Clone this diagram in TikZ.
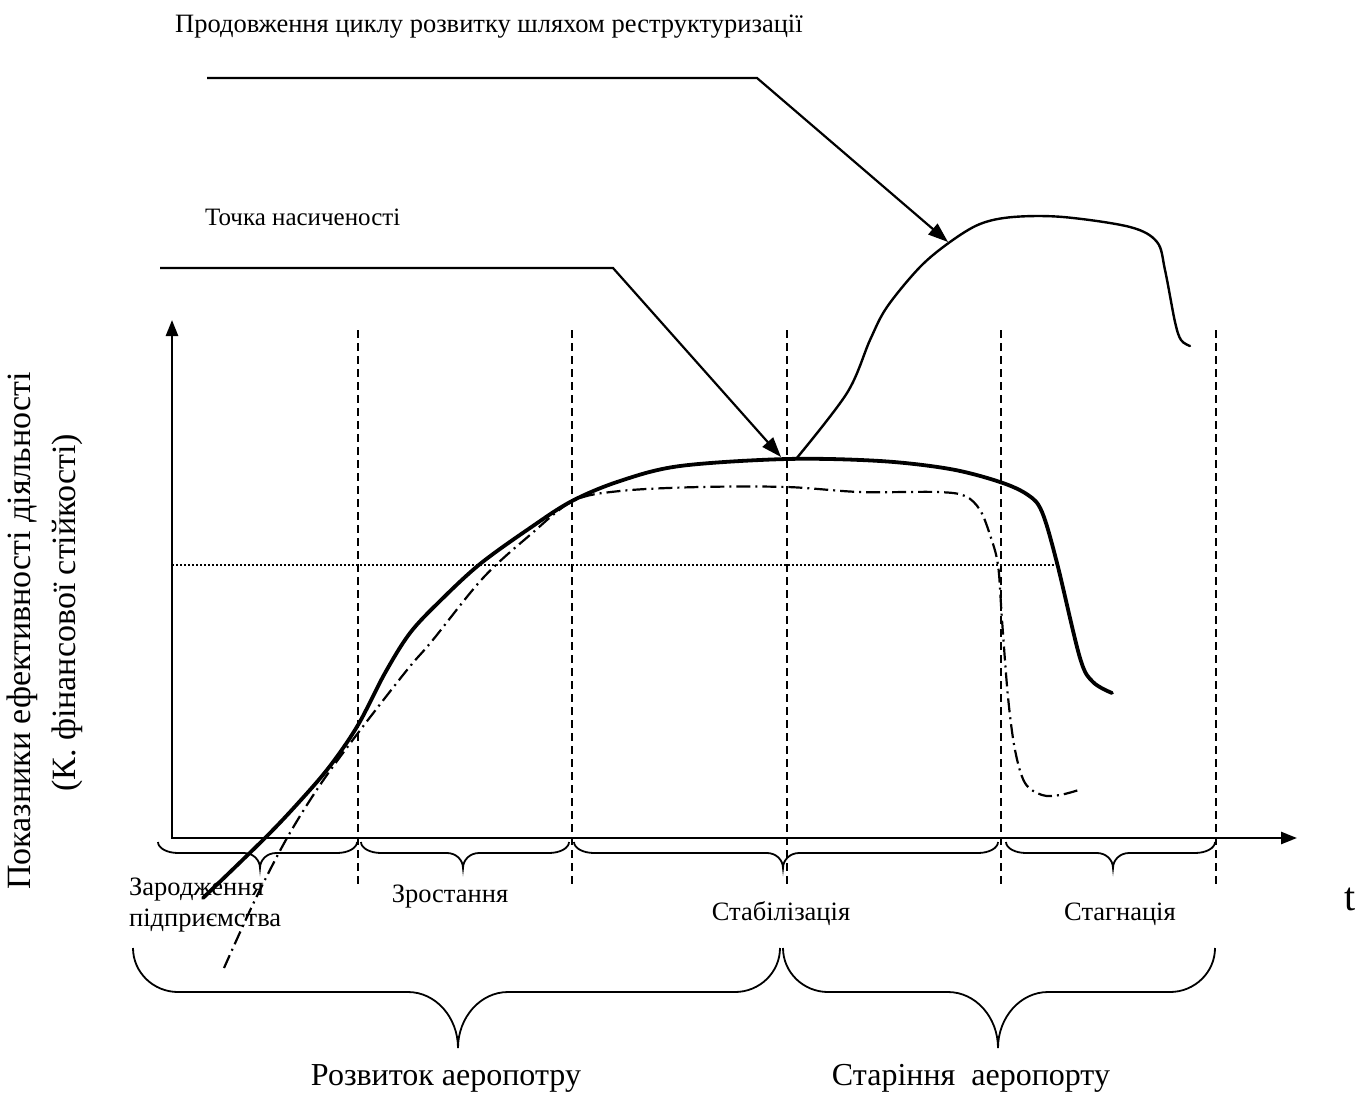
\documentclass[tikz,border=0pt]{standalone}
\usepackage{fontspec}
\setmainfont{Liberation Serif}
\usetikzlibrary{arrows.meta}

\tikzset{
  axis/.style={line width=2.6pt, {Triangle[length=16pt,width=12pt]}-{Triangle[length=16pt,width=12pt]}},
  phase/.style={line width=1.8pt, dash pattern=on 8pt off 5pt},
  level/.style={line width=1.6pt, dash pattern=on 2pt off 2pt},
  maincurve/.style={line width=3.8pt, line join=round, line cap=round},
  altcurve/.style={line width=2.2pt, dash pattern=on 14pt off 5pt on 2pt off 5pt},
  renewcurve/.style={line width=2.4pt, line cap=round},
  pointer/.style={line width=2.2pt, -{Triangle[length=20pt,width=14pt]}},
  bracket/.style={line width=1.8pt},
  lbl/.style={inner sep=0pt, font=\fontsize{26.5}{31}\selectfont},
  biglbl/.style={inner sep=0pt, font=\fontsize{32}{36}\selectfont},
  axislbl/.style={inner sep=0pt, font=\fontsize{34}{38}\selectfont},
}

% curly brace: x-left, x-right, x-tip, y-ends, y-flat, y-tip, end width, tip width
\newcommand\curlybrace[8]{%
  \draw[bracket] (#1,#4) .. controls (#1,{#4+0.55*(#5-#4)}) and ({#1+0.45*#7},#5) .. ({#1+#7},#5)
    -- ({#3-#8},#5) .. controls ({#3-0.45*#8},#5) and (#3,{#5+0.45*(#6-#5)}) .. (#3,#6)
    .. controls (#3,{#5+0.45*(#6-#5)}) and ({#3+0.45*#8},#5) .. ({#3+#8},#5)
    -- ({#2-#7},#5) .. controls ({#2-0.45*#7},#5) and (#2,{#4+0.55*(#5-#4)}) .. (#2,#4);}

\begin{document}
\begin{tikzpicture}[x=1pt,y=-1pt]
\useasboundingbox (0,0) rectangle (1372,1105);

% phase boundaries
\foreach \xx in {358,572,787,1001,1216}
  \draw[phase] (\xx,330) -- (\xx,884);

% saturation level
\draw[level] (172,565) -- (1057,565);

% axes
\coordinate (ytop) at (172,320);
\coordinate (origin) at (172,838);
\coordinate (xend) at (1297,838);
\draw[axis] (ytop) -- (origin) -- (xend);

% development curve
\draw[maincurve] plot[smooth, tension=0.55] coordinates {
  (203,898) (265,838) (300,801) (330,766) (358,725) (385,673) (410,633)
  (440,601) (480,564) (530,528) (572,501) (620,481) (680,466) (787,459)
  (880,461) (950,469) (1000,482) (1028,495) (1042,512) (1057,563)
  (1080,658) (1093,682) (1112,693)};

% alternative curve
\draw[altcurve] plot[smooth, tension=0.55] coordinates {
  (224,968) (255,900) (287,838) (320,785) (358,733) (407,670) (432,641)
  (483,578) (530,535) (573,501) (620,491) (700,487) (787,487) (860,492)
  (937,492) (965,496) (980,510) (990,535) (998,565) (1002,620) (1008,697)
  (1015,750) (1025,783) (1042,795) (1060,795) (1082,789)};

% restructuring curve
\draw[renewcurve] plot[smooth, tension=0.55] coordinates {
  (796,459) (847,393) (870,340) (887,307) (920,267) (950,242) (980,224)
  (1013,217) (1063,217) (1130,227) (1157,242) (1165,270) (1175,322)
  (1181,340) (1190,346)};

% pointers
\coordinate (pa1) at (207,78);
\coordinate (pa2) at (757,78);
\coordinate (pa3) at (948,242);
\draw[pointer] (pa1) -- (pa2) -- (pa3);
\coordinate (pb1) at (160,268);
\coordinate (pb2) at (613,268);
\coordinate (pb3) at (781,457);
\draw[pointer] (pb1) -- (pb2) -- (pb3);

% stage braces
\curlybrace{158}{357}{260}{842}{853}{868}{20}{16}
\curlybrace{361}{569}{463}{842}{853}{868}{20}{16}
\curlybrace{574}{998}{783}{842}{853}{868}{20}{16}
\curlybrace{1006}{1215}{1113}{842}{853}{868}{20}{16}
% period braces
\curlybrace{133}{780}{458}{948}{992}{1048}{45}{50}
\curlybrace{783}{1215}{998}{948}{992}{1048}{45}{50}

% labels
\node[lbl, anchor=base west] (renewtxt) at (175,33) {Продовження циклу розвитку шляхом реструктуризації};
\node[lbl, font=\fontsize{25}{30}\selectfont, anchor=base west] (sattxt) at (205,225) {Точка насиченості};
\node[lbl, anchor=base west] (birth1) at (129,895) {Зародження};
\node[lbl, anchor=base west] (birth2) at (129,926) {підприємства};
\node[lbl, anchor=base] (grow) at (450,902) {Зростання};
\node[lbl, anchor=base] (stab) at (781,920) {Стабілізація};
\node[lbl, anchor=base] (stag) at (1120,920) {Стагнація};
\node[inner sep=0pt, font=\fontsize{40}{44}\selectfont, anchor=base] (tlbl) at (1350,910) {t};
\node[biglbl] (devtxt) at (446,1078) {Розвиток аеропотру};
\node[biglbl] (agetxt) at (971,1078) {Старіння\ \ аеропорту};
\node[axislbl, rotate=90] (ylab1) at (22,631) {Показники ефективності діяльності};
\node[axislbl, rotate=90] (ylab2) at (67,613) {(К. фінансової стійкості)};
\end{tikzpicture}
\end{document}
